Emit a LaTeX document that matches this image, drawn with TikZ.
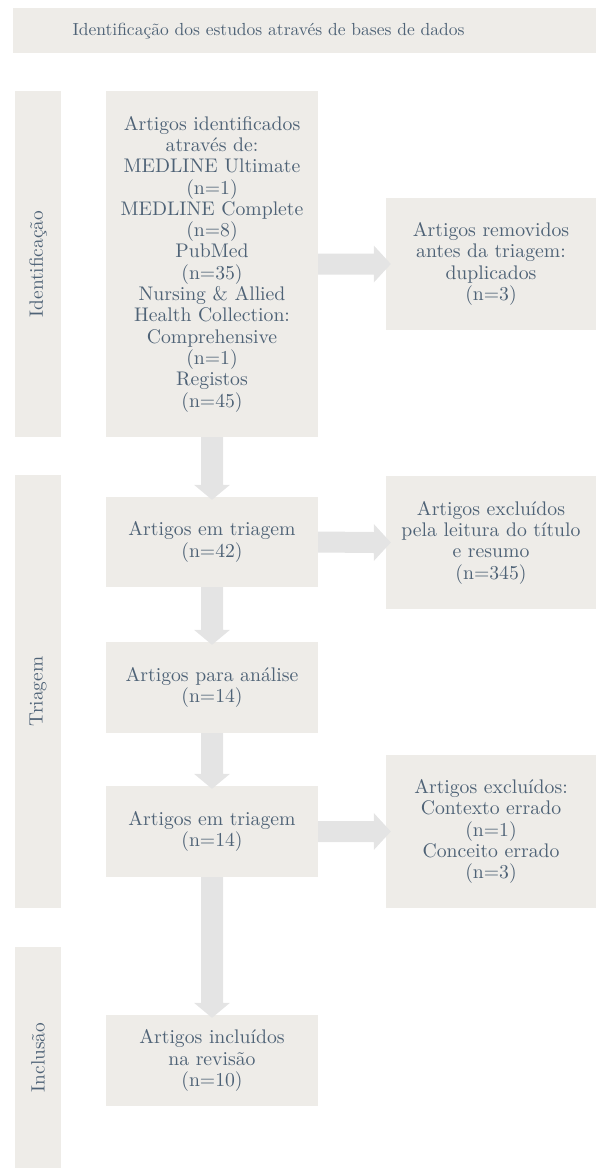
\documentclass[tikz,border=0pt]{standalone}
\usepackage{fontspec}
\setmainfont{lmroman10-regular}[Extension=.otf]
\usetikzlibrary{calc}
\definecolor{boxfill}{RGB}{238,236,232}
\definecolor{arrfill}{RGB}{228,228,228}
\definecolor{txtc}{RGB}{78,98,118}
\newcommand{\flowdown}[2]{%
  \fill[arrfill] ([xshift=-11pt]#1.south) -- ([xshift=-11pt,yshift=12pt]#2.north)
    -- ([xshift=-18pt,yshift=12pt]#2.north) -- ([yshift=-3pt]#2.north)
    -- ([xshift=18pt,yshift=12pt]#2.north) -- ([xshift=11pt,yshift=12pt]#2.north)
    -- ([xshift=11pt]#1.south) -- cycle;}
\newcommand{\flowright}[2]{%
  \fill[arrfill] ([yshift=10.5pt]#1.east) -- ([xshift=-12pt,yshift=10.5pt]#2.west)
    -- ([xshift=-12pt,yshift=18.5pt]#2.west) -- ([xshift=5pt]#2.west)
    -- ([xshift=-12pt,yshift=-18.5pt]#2.west) -- ([xshift=-12pt,yshift=-10.5pt]#2.west)
    -- ([yshift=-10.5pt]#1.east) -- cycle;}
\begin{document}
\begin{tikzpicture}[x=1pt,y=-1pt,
  font=\fontsize{19.7}{21.3}\selectfont,
  box/.style={fill=boxfill, text=txtc, align=center, inner sep=0pt, minimum width=212pt},
  rbox/.style={fill=boxfill, text=txtc, align=center, inner sep=0pt, minimum width=210pt},
  sidebar/.style={fill=boxfill, inner sep=0pt, minimum width=46pt},
  sidetext/.style={text=txtc, rotate=90, inner sep=0pt, font=\fontsize{19.3}{21.3}\selectfont},
  txt/.style={text=txtc, inner sep=0pt}]
\useasboundingbox (0,0) rectangle (596,1168);
% banner
\node[fill=boxfill, inner sep=0pt, minimum width=583pt, minimum height=45pt] (banner) at (304.5,30.5) {};
\node[txt, font=\fontsize{17.5}{21}\selectfont] (bannertext) at (268.5,31) {Identificação dos estudos através de bases de dados};
% side bars
\node[sidebar, minimum height=346pt] (s1) at (38,264) {};
\node[sidetext] (s1t) at (s1.center) {Identificação};
\node[sidebar, minimum height=433pt] (s2) at (38,691.5) {};
\node[sidetext] (s2t) at (s2.center) {Triagem};
\node[sidebar, minimum height=221pt] (s3) at (38,1057.5) {};
\node[sidetext] (s3t) at (s3.center) {Inclusão};
% main boxes
\node[box, minimum height=346pt] (b1) at (212,264) {Artigos identificados\\através de:\\MEDLINE Ultimate\\(n=1)\\MEDLINE Complete\\(n=8)\\PubMed\\(n=35)\\Nursing \& Allied\\Health Collection:\\Comprehensive\\(n=1)\\Registos\\(n=45)};
\node[box, minimum height=90pt] (b2) at (212,542) {Artigos em triagem\\(n=42)};
\node[box, minimum height=91pt] (b3) at (212,687.5) {Artigos para análise\\(n=14)};
\node[box, minimum height=91pt] (b4) at (212,831.5) {Artigos em triagem\\(n=14)};
\node[box, minimum height=91pt] (b5) at (212,1060.5) {Artigos incluídos\\na revisão\\(n=10)};
% right boxes
\node[rbox, minimum height=132pt] (r1) at (491,264) {Artigos removidos\\antes da triagem:\\duplicados\\(n=3)};
\node[rbox, minimum height=133pt] (r2) at (491,542.5) {Artigos excluídos\\pela leitura do título\\e resumo\\(n=345)};
\node[rbox, minimum height=153pt] (r3) at (491,831.5) {Artigos excluídos:\\Contexto errado\\(n=1)\\Conceito errado\\(n=3)};
% arrows
\flowdown{b1}{b2}
\flowdown{b2}{b3}
\flowdown{b3}{b4}
\flowdown{b4}{b5}
\flowright{b1}{r1}
\flowright{b2}{r2}
\flowright{b4}{r3}
\end{tikzpicture}
\end{document}
